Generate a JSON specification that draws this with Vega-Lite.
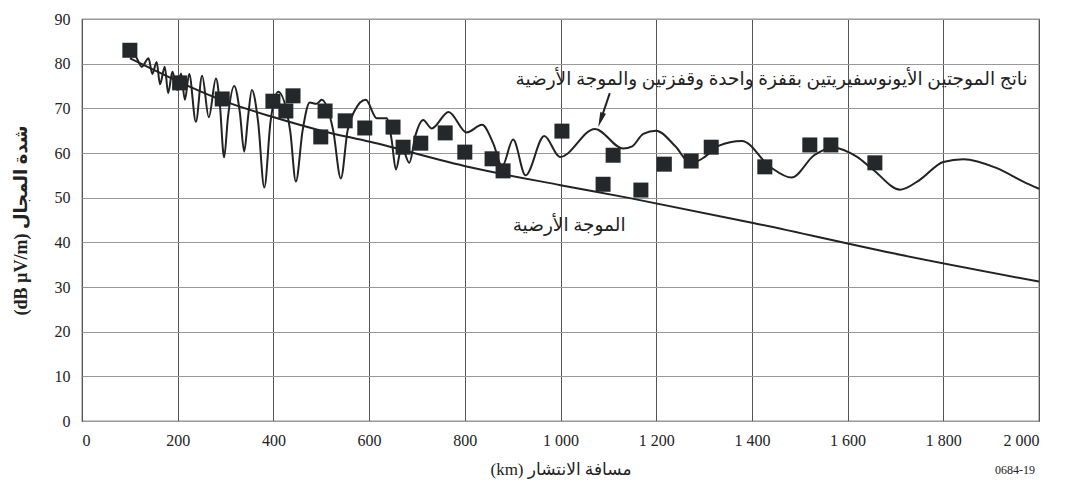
{
  "$schema": "https://vega.github.io/schema/vega-lite/v6.json",
  "width": 957,
  "height": 402,
  "autosize": {"type": "none"},
  "padding": {"left": 82, "top": 19, "right": 30, "bottom": 74},
  "background": "white",
  "config": {
    "view": {"stroke": "#333", "strokeWidth": 1.2},
    "font": "Liberation Serif, DejaVu Sans"
  },
  "datasets": {
    "ground": [
      {"km": 100, "val": 81.2}, {"km": 150, "val": 78.6}, {"km": 226, "val": 74.8},
      {"km": 300, "val": 71.5}, {"km": 401, "val": 68.0}, {"km": 500, "val": 65.0},
      {"km": 602, "val": 62.5}, {"km": 811, "val": 56.8}, {"km": 1000, "val": 52.8},
      {"km": 1145, "val": 49.9}, {"km": 1400, "val": 44.4}, {"km": 1710, "val": 37.2},
      {"km": 2000, "val": 31.2}
    ],
    "sky": [
      {"km": 100, "val": 81.6}, {"km": 111, "val": 81.6}, {"km": 125, "val": 79.3},
      {"km": 139, "val": 81.2}, {"km": 147, "val": 77.7}, {"km": 156, "val": 80.4},
      {"km": 163, "val": 75.4}, {"km": 173, "val": 79.3}, {"km": 180, "val": 73.4},
      {"km": 189, "val": 78.2}, {"km": 199, "val": 74.1}, {"km": 207, "val": 77.8},
      {"km": 215, "val": 71.9}, {"km": 224, "val": 77.7}, {"km": 238, "val": 67.0},
      {"km": 251, "val": 77.3}, {"km": 265, "val": 68.0}, {"km": 280, "val": 76.7},
      {"km": 288, "val": 71.0}, {"km": 297, "val": 59.0}, {"km": 305, "val": 68.0},
      {"km": 318, "val": 75.0}, {"km": 330, "val": 69.0}, {"km": 339, "val": 60.3},
      {"km": 347, "val": 68.0}, {"km": 355, "val": 74.1}, {"km": 368, "val": 67.0},
      {"km": 381, "val": 52.3}, {"km": 394, "val": 67.0}, {"km": 410, "val": 73.7},
      {"km": 435, "val": 65.0}, {"km": 447, "val": 53.6}, {"km": 461, "val": 65.0},
      {"km": 476, "val": 71.3}, {"km": 490, "val": 71.0}, {"km": 501, "val": 71.9},
      {"km": 525, "val": 65.0}, {"km": 541, "val": 54.3}, {"km": 555, "val": 65.0},
      {"km": 570, "val": 69.5}, {"km": 593, "val": 71.9}, {"km": 616, "val": 67.8},
      {"km": 637, "val": 67.8}, {"km": 647, "val": 63.0}, {"km": 656, "val": 56.3},
      {"km": 668, "val": 61.4}, {"km": 684, "val": 57.8}, {"km": 697, "val": 64.0},
      {"km": 713, "val": 67.4}, {"km": 731, "val": 65.5}, {"km": 766, "val": 69.2},
      {"km": 804, "val": 64.6}, {"km": 836, "val": 66.3}, {"km": 860, "val": 62.0},
      {"km": 878, "val": 57.0}, {"km": 901, "val": 63.0}, {"km": 927, "val": 55.0},
      {"km": 966, "val": 63.8}, {"km": 999, "val": 59.1}, {"km": 1072, "val": 65.4},
      {"km": 1131, "val": 61.0}, {"km": 1150, "val": 61.5}, {"km": 1173, "val": 64.3},
      {"km": 1200, "val": 65.0}, {"km": 1240, "val": 61.5}, {"km": 1272, "val": 57.7},
      {"km": 1300, "val": 59.0}, {"km": 1330, "val": 61.6}, {"km": 1379, "val": 62.7},
      {"km": 1438, "val": 56.9}, {"km": 1483, "val": 54.5}, {"km": 1530, "val": 59.5},
      {"km": 1570, "val": 61.2}, {"km": 1619, "val": 59.2}, {"km": 1654, "val": 56.2},
      {"km": 1710, "val": 51.8}, {"km": 1751, "val": 54.0}, {"km": 1800, "val": 58.0},
      {"km": 1842, "val": 58.6}, {"km": 1912, "val": 56.6}, {"km": 1967, "val": 53.6},
      {"km": 2000, "val": 52.0}
    ],
    "meas": [
      {"km": 100, "val": 83.0}, {"km": 204, "val": 75.7}, {"km": 293, "val": 72.1},
      {"km": 399, "val": 71.6}, {"km": 426, "val": 69.4}, {"km": 441, "val": 72.8},
      {"km": 499, "val": 63.6}, {"km": 508, "val": 69.4}, {"km": 550, "val": 67.2},
      {"km": 591, "val": 65.6}, {"km": 650, "val": 65.8}, {"km": 671, "val": 61.3},
      {"km": 708, "val": 62.2}, {"km": 759, "val": 64.5}, {"km": 800, "val": 60.2},
      {"km": 857, "val": 58.7}, {"km": 880, "val": 56.0}, {"km": 1003, "val": 64.9},
      {"km": 1089, "val": 53.0}, {"km": 1110, "val": 59.5}, {"km": 1168, "val": 51.7},
      {"km": 1217, "val": 57.5}, {"km": 1273, "val": 58.2}, {"km": 1315, "val": 61.3},
      {"km": 1427, "val": 56.9}, {"km": 1521, "val": 61.8}, {"km": 1565, "val": 61.8},
      {"km": 1657, "val": 57.8}
    ],
    "arrow": [
      {"km": 1103, "val": 73.4, "km2": 1084, "val2": 67.4}
    ],
    "head": [
      {"km": 1084, "val": 67.4}
    ],
    "labels": [
      {"km": 1441, "val": 76.6, "label": "ناتج الموجتين الأيونوسفيريتين بقفزة واحدة وقفزتين والموجة الأرضية"},
      {"km": 1018, "val": 43.9, "label": "الموجة الأرضية"}
    ],
    "code": [
      {"km": 1950, "val": -11, "label": "0684-19"}
    ]
  },
  "encoding": {
    "x": {
      "field": "km", "type": "quantitative",
      "scale": {"domain": [0, 2000], "nice": false, "zero": false},
      "axis": {
        "values": [0, 200, 400, 600, 800, 1000, 1200, 1400, 1600, 1800, 2000],
        "labelExpr": "replace(format(datum.value, ','), ',', ' ')",
        "grid": true, "gridColor": "#555", "gridWidth": 1,
        "domain": false, "ticks": false,
        "labelPadding": 11, "labelFontSize": 16, "labelColor": "#222",
        "labelFont": "Liberation Serif",
        "title": "(km) مسافة الانتشار", "titleFontSize": 17,
        "titleFontWeight": "normal", "titleColor": "#222", "titlePadding": 13,
        "titleFont": "Liberation Serif, DejaVu Sans"
      }
    },
    "y": {
      "field": "val", "type": "quantitative",
      "scale": {"domain": [0, 90], "nice": false, "zero": false},
      "axis": {
        "values": [0, 10, 20, 30, 40, 50, 60, 70, 80, 90],
        "grid": true, "gridColor": "#999", "gridWidth": 1,
        "domain": false, "ticks": false,
        "labelPadding": 12, "labelFontSize": 16, "labelColor": "#222",
        "labelFont": "Liberation Serif",
        "title": "(dB µV/m) شدة المجال", "titleFontSize": 18,
        "titleFontWeight": "bold", "titleColor": "#222", "titlePadding": 24,
        "titleFont": "Liberation Serif, DejaVu Sans"
      }
    }
  },
  "layer": [
    {
      "data": {"name": "ground"},
      "mark": {"type": "line", "color": "#222", "strokeWidth": 2, "interpolate": "monotone"}
    },
    {
      "data": {"name": "sky"},
      "mark": {"type": "line", "color": "#222", "strokeWidth": 2, "interpolate": "monotone"}
    },
    {
      "data": {"name": "meas"},
      "mark": {"type": "point", "shape": "square", "filled": true, "size": 225, "color": "#24282a", "opacity": 1}
    },
    {
      "data": {"name": "arrow"},
      "mark": {"type": "rule", "color": "#222", "strokeWidth": 2},
      "encoding": {"x2": {"field": "km2"}, "y2": {"field": "val2"}}
    },
    {
      "data": {"name": "head"},
      "mark": {"type": "point", "shape": "M0,1L-0.4,-1L0.4,-1Z", "filled": true, "size": 225, "angle": 19, "color": "#222", "opacity": 1}
    },
    {
      "data": {"name": "labels"},
      "mark": {"type": "text", "align": "center", "baseline": "middle", "color": "#222", "font": "Liberation Serif, DejaVu Sans", "fontSize": 18.5},
      "encoding": {"text": {"field": "label"}}
    },
    {
      "data": {"name": "code"},
      "mark": {"type": "text", "align": "center", "baseline": "middle", "color": "#222", "font": "Liberation Serif", "fontSize": 12},
      "encoding": {"text": {"field": "label"}}
    }
  ]
}
